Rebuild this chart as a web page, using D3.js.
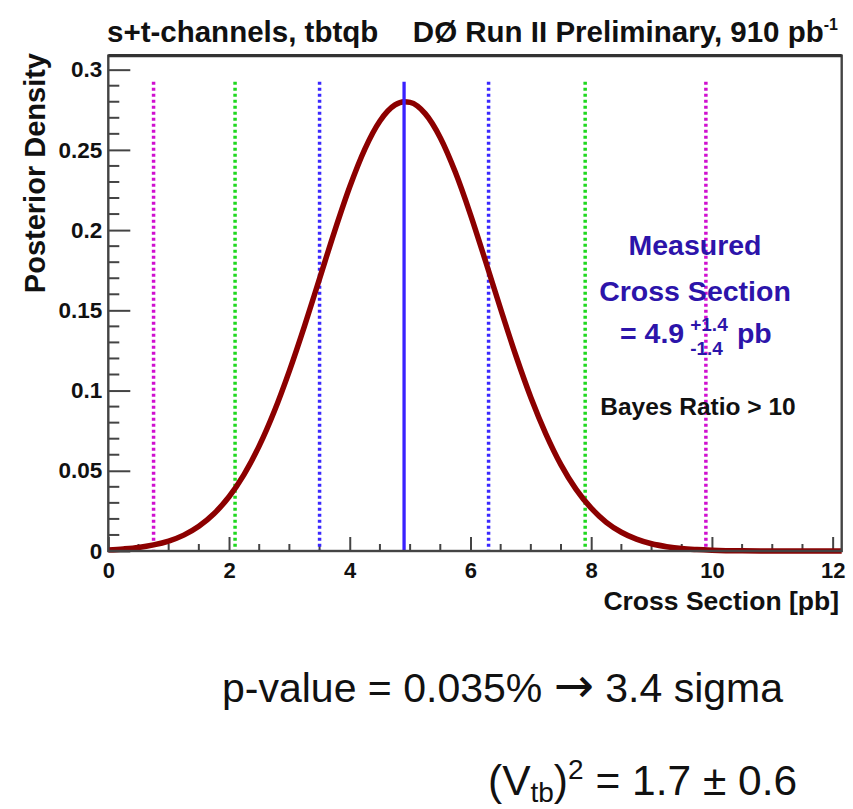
<!DOCTYPE html>
<html>
<head>
<meta charset="utf-8">
<script src="https://cdn.jsdelivr.net/npm/d3@7"></script>
<style>
  html, body { margin: 0; padding: 0; background: #fff; }
  svg { display: block; }
  text { font-family: "Liberation Sans", Arial, Helvetica, sans-serif; }
</style>
</head>
<body>
<svg id="chart" width="853" height="809"></svg>
<script>
// Posterior density of the single-top cross section (s+t channels)
const crossSection = [0, 0.25, 0.5, 0.75, 1, 1.25, 1.5, 1.75, 2, 2.25, 2.5, 2.75, 3, 3.25,
  3.5, 3.75, 4, 4.25, 4.5, 4.75, 4.9, 5, 5.25, 5.5, 5.75, 6, 6.25, 6.5, 6.75, 7, 7.25, 7.5,
  7.75, 8, 8.25, 8.5, 8.75, 9, 9.25, 9.5, 9.75, 10, 10.5, 11, 11.5, 12, 12.15];
const posterior = [0.0007, 0.0013, 0.0022, 0.0038, 0.0062, 0.0099, 0.0154, 0.0232, 0.0338,
  0.0478, 0.0655, 0.0871, 0.1123, 0.1402, 0.1698, 0.1994, 0.2270, 0.2505, 0.2680, 0.2780,
  0.2800, 0.2796, 0.2726, 0.2576, 0.2360, 0.2097, 0.1806, 0.1508, 0.1220, 0.0957, 0.0729,
  0.0537, 0.0384, 0.0267, 0.0179, 0.0117, 0.0074, 0.0045, 0.0027, 0.0015, 0.0009, 0.0005,
  0.0001, 0, 0, 0, 0];

// Measured value and its uncertainty
const measured = 4.9;
const errPlus = 1.4;
const errMinus = 1.4;

// Interval bounds drawn as dotted verticals (inner to outer)
const intervalLow = [measured - errMinus, 2.1, 0.75];
const intervalHigh = [measured + errPlus, 7.9, 9.9];
const intervalColor = ["#3a28ff", "#1fd81f", "#d010d0"];

// Axis ticks
const xTicks = [0, 2, 4, 6, 8, 10, 12];
const yTicks = [0, 0.05, 0.1, 0.15, 0.2, 0.25, 0.3];

const svg = d3.select("#chart");
svg.append("rect").attr("width", 853).attr("height", 809).attr("fill", "#fff");

const frame = { left: 108.3, right: 841.7, top: 55.7, bottom: 551 };
const x = d3.scaleLinear().domain([0, 12.15]).range([frame.left, frame.right]);
const y = d3.scaleLinear().domain([0, 0.3087]).range([frame.bottom, frame.top]);
const lineTop = 0.2925;

const ink = "#444";

// Minor ticks
const xMinor = d3.range(0, 12.01, 0.5).filter(v => !xTicks.includes(v));
const yMinor = d3.range(0, 0.3001, 0.01).filter(v => !yTicks.some(t => Math.abs(t - v) < 1e-6));

svg.append("g").selectAll("line").data(xMinor).join("line")
  .attr("x1", d => x(d)).attr("x2", d => x(d))
  .attr("y1", frame.bottom).attr("y2", frame.bottom - 7)
  .attr("stroke", ink).attr("stroke-width", 2);
svg.append("g").selectAll("line").data(yMinor).join("line")
  .attr("x1", frame.left).attr("x2", frame.left + 11)
  .attr("y1", d => y(d)).attr("y2", d => y(d))
  .attr("stroke", ink).attr("stroke-width", 2);

// Major axes
const xAxis = svg.append("g")
  .attr("transform", `translate(0,${frame.bottom})`)
  .call(d3.axisBottom(x).tickValues(xTicks).tickSizeInner(-14).tickSizeOuter(0)
    .tickPadding(11).tickFormat(d3.format("d")));
xAxis.select(".domain").remove();
xAxis.selectAll(".tick line").attr("stroke", ink).attr("stroke-width", 2);
xAxis.selectAll(".tick text").attr("font-size", 22).attr("font-weight", "bold")
  .attr("fill", "#111").attr("font-family", "Liberation Sans, Arial, sans-serif");

const yAxis = svg.append("g")
  .attr("transform", `translate(${frame.left},0)`)
  .call(d3.axisLeft(y).tickValues(yTicks).tickSizeInner(-22).tickSizeOuter(0)
    .tickPadding(6).tickFormat(d => d === 0 ? "0" : String(+d.toFixed(2))));
yAxis.select(".domain").remove();
yAxis.selectAll(".tick line").attr("stroke", ink).attr("stroke-width", 2);
yAxis.selectAll(".tick text").attr("font-size", 22.5).attr("font-weight", "bold")
  .attr("fill", "#111").attr("font-family", "Liberation Sans, Arial, sans-serif");

// Interval lines
intervalLow.forEach((lo, i) => {
  [lo, intervalHigh[i]].forEach(v => {
    svg.append("line")
      .attr("x1", x(v)).attr("x2", x(v))
      .attr("y1", y(lineTop)).attr("y2", y(0))
      .attr("stroke", intervalColor[i]).attr("stroke-width", 3.5)
      .attr("stroke-dasharray", "3,3");
  });
});

// Posterior curve
const pts = crossSection.map((c, i) => [c, posterior[i]]);
svg.append("path")
  .datum(pts)
  .attr("d", d3.line().x(d => x(d[0])).y(d => y(d[1])).curve(d3.curveMonotoneX))
  .attr("fill", "none").attr("stroke", "#8c0000").attr("stroke-width", 5.5)
  .attr("stroke-linejoin", "round");

// Central value
svg.append("line")
  .attr("x1", x(measured)).attr("x2", x(measured))
  .attr("y1", y(lineTop)).attr("y2", y(0))
  .attr("stroke", "#3a22ff").attr("stroke-width", 3.3);

// Frame
svg.append("rect")
  .attr("x", frame.left).attr("y", frame.top)
  .attr("width", frame.right - frame.left).attr("height", frame.bottom - frame.top)
  .attr("fill", "none").attr("stroke", ink).attr("stroke-width", 2.4);
svg.append("line")
  .attr("x1", frame.left).attr("x2", frame.right)
  .attr("y1", frame.top).attr("y2", frame.top)
  .attr("stroke", "#333").attr("stroke-width", 3.2);

// Titles
svg.append("text").attr("x", 107).attr("y", 42)
  .attr("font-size", 29.5).attr("font-weight", "bold").attr("fill", "#111")
  .text("s+t-channels, tbtqb");
const rt = svg.append("text").attr("x", 838).attr("y", 42).attr("text-anchor", "end")
  .attr("font-size", 29.5).attr("font-weight", "bold").attr("fill", "#111");
rt.append("tspan").text("DØ Run II Preliminary, 910 pb");
rt.append("tspan").attr("font-size", 16).attr("dy", -12).text("-1");

svg.append("text")
  .attr("transform", "translate(45,53) rotate(-90)")
  .attr("text-anchor", "end")
  .attr("font-size", 29).attr("font-weight", "bold").attr("fill", "#111")
  .text("Posterior Density");

svg.append("text").attr("x", 839).attr("y", 610).attr("text-anchor", "end")
  .attr("font-size", 26.5).attr("font-weight", "bold").attr("fill", "#111")
  .text("Cross Section [pb]");

// Result box
const resCol = "#2c14aa";
svg.append("text").attr("x", 695).attr("y", 255).attr("text-anchor", "middle")
  .attr("font-size", 28.5).attr("font-weight", "bold").attr("fill", resCol).text("Measured");
svg.append("text").attr("x", 695).attr("y", 301).attr("text-anchor", "middle")
  .attr("font-size", 28.5).attr("font-weight", "bold").attr("fill", resCol).text("Cross Section");

const eq = svg.append("text").attr("x", 620).attr("y", 343)
  .attr("font-size", 28.5).attr("font-weight", "bold").attr("fill", resCol)
  .text(`= ${measured}`);
const eqEnd = 620 + eq.node().getComputedTextLength() + 6;
svg.append("text").attr("x", eqEnd).attr("y", 331)
  .attr("font-size", 19).attr("font-weight", "bold").attr("fill", resCol)
  .text(`+${errPlus}`);
const sub = svg.append("text").attr("x", eqEnd).attr("y", 355)
  .attr("font-size", 19).attr("font-weight", "bold").attr("fill", resCol)
  .text(`-${errMinus}`);
const scriptEnd = eqEnd + sub.node().getComputedTextLength() + 14;
svg.append("text").attr("x", scriptEnd).attr("y", 343)
  .attr("font-size", 28.5).attr("font-weight", "bold").attr("fill", resCol).text("pb");

svg.append("text").attr("x", 698).attr("y", 415).attr("text-anchor", "middle")
  .attr("font-size", 24.5).attr("font-weight", "bold").attr("fill", "#111")
  .text("Bayes Ratio > 10");

// Significance and |Vtb|^2
const pv = svg.append("text").attr("x", 222).attr("y", 702)
  .attr("font-size", 41).attr("fill", "#111");
pv.append("tspan").text("p-value = 0.035% ");
pv.append("tspan").attr("font-family", "DejaVu Sans").attr("font-size", 48).text("\u2192");
pv.append("tspan").text(" 3.4 sigma");

const v = svg.append("text").attr("x", 488).attr("y", 795)
  .attr("font-size", 42.5).attr("fill", "#111");
v.append("tspan").text("(V");
v.append("tspan").attr("font-size", 28).attr("dy", 7).text("tb");
v.append("tspan").attr("dy", -7).text(")");
v.append("tspan").attr("font-size", 28).attr("dy", -16).text("2");
v.append("tspan").attr("dy", 16).text(" = 1.7 \u00b1 0.6");
</script>
</body>
</html>
